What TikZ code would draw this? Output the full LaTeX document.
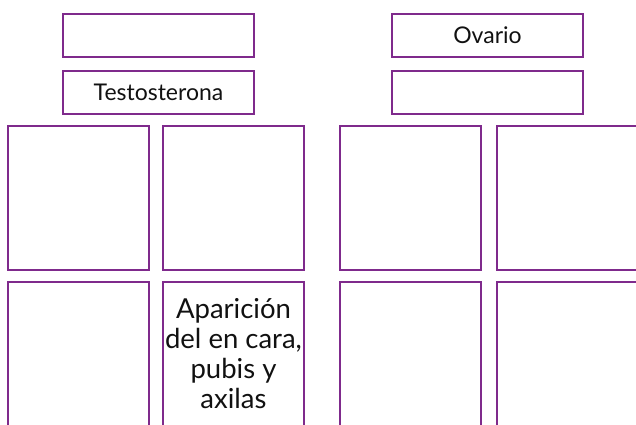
\documentclass[tikz,border=0pt]{standalone}
\usepackage{fontspec}
\setmainfont{Lato}
\usepackage{xcolor}
\usepackage{tikz}
\usetikzlibrary{positioning}
\definecolor{plum}{HTML}{7F2A8C}
\definecolor{ink}{HTML}{111111}

\begin{document}
\begin{tikzpicture}[x=1pt,y=-1pt,
  labelbox/.style={draw=plum,line width=2.4pt,minimum width=191pt,minimum height=43pt,inner sep=0pt,text=ink,font=\fontsize{23}{26}\selectfont},
  cellbox/.style={draw=plum,line width=2.4pt,minimum width=141pt,minimum height=144pt,inner sep=0pt,text=ink,align=center,font=\fontsize{27.5}{30}\selectfont}]
  \useasboundingbox (0,0) rectangle (636,424);
  \clip (0,0) rectangle (636,424);
  % glands and hormones
  \node[labelbox] (glandm) at (158.5,35.5) {};
  \node[labelbox] (hormm) at (158.5,92.5) {Testosterona};
  \node[labelbox] (glandf) at (487.5,35.5) {Ovario};
  \node[labelbox] (hormf) at (487.5,92.5) {};
  % effects, first row
  \node[cellbox] (ma) at (78.5,198) {};
  \node[cellbox] (mb) at (233.5,198) {};
  \node[cellbox] (fa) at (410.5,198) {};
  \node[cellbox] (fb) at (567.5,198) {};
  % effects, second row
  \node[cellbox] (mc) at (78.5,354) {};
  \node[cellbox] (md) at (233.5,354) {Aparición\\del en cara,\\pubis y\\axilas};
  \node[cellbox] (fc) at (410.5,354) {};
  \node[cellbox] (fd) at (567.5,354) {};
\end{tikzpicture}
\end{document}
